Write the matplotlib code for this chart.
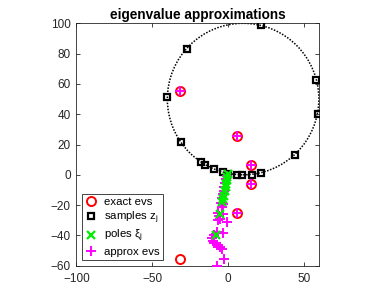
import matplotlib
matplotlib.use('Agg')
import matplotlib.pyplot as plt
from matplotlib.patches import Circle

# ── Data ───────────────────────────────────────────────────────────────────────

circle_center = (10, 50)
circle_radius = 50

exact_x = [-31.5, -31.5, 6.0, 6.0, 15.3, 15.3]
exact_y = [55.3, -55.3, 25.3, -25.5, 6.2, -6.2]

sample_x = [21.7, -27.2, 58.1, -40.3, 59.4, -31.1, 44.1, -18.0, -14.9,
            -9.2, -3.1, 0.2, 5.7, 9.2, 15.6, 21.7]
sample_y = [98.8, 83.2, 62.6, 51.4, 40.3, 21.4, 13.0, 8.2, 6.7,
            3.6, 1.6, 0.8, 0.1, -0.1, 0.1, 1.2]

pole_x = [-0.2, -0.4, -0.7, -1.0, -1.4, -1.9, -2.5, -3.2, -4.1, -5.5, -8.0]
pole_y = [0.5, -1.5, -3.5, -5.8, -8.3, -11.0, -13.8, -16.0, -17.9, -26.0, -39.8]

approx_x = [-31.5, 6.0, 6.0, 15.3, 15.3,
            -0.8, -1.3, -1.8, -2.3, -2.8, -3.3, -3.8, -4.5, -3.0, -3.6,
            -6.5, -6.0, -5.0, -6.5, -3.5, -0.9,
            -7.0, -3.1, -9.0, -10.5, -10.0, -9.0, -7.5, -5.5, -3.6,
            -2.6, -7.4]
approx_y = [55.3, 25.3, -25.5, 6.2, -6.2,
            -1.0, -3.0, -5.5, -8.0, -10.5, -13.0, -15.5, -18.5, -19.5, -21.0,
            -25.0, -27.5, -29.0, -30.0, -26.0, -31.0,
            -37.5, -38.7, -40.0, -42.0, -43.5, -45.3, -46.5, -47.5, -49.2,
            -55.8, -60.2]

x_ticks = [-100, -50, 0, 50]
y_ticks = [-60, -40, -20, 0, 20, 40, 60, 80, 100]

# ── Plot ───────────────────────────────────────────────────────────────────────

plt.rcParams['font.family'] = ['Liberation Sans', 'DejaVu Sans']
plt.rcParams['mathtext.fontset'] = 'custom'
plt.rcParams['mathtext.rm'] = 'Liberation Sans'

fig = plt.figure(figsize=(3.82, 3.05), dpi=100)
ax = fig.add_axes([76 / 382, 39.3 / 305, 243.3 / 382, 242.4 / 305])

ax.add_patch(Circle(circle_center, circle_radius, fill=False, color="black",
                    linestyle=(0, (1, 1)), linewidth=1.1, zorder=1))

ax.plot(exact_x, exact_y, linestyle="none", marker="o", markersize=6.5,
        markerfacecolor="none", markeredgecolor="red", markeredgewidth=1.4,
        label="exact evs", zorder=2)
ax.plot(sample_x, sample_y, linestyle="none", marker="s", markersize=5,
        markerfacecolor="none", markeredgecolor="black", markeredgewidth=1.6,
        label=r"samples z$_\mathregular{j}$", zorder=3)
ax.plot(pole_x, pole_y, linestyle="none", marker="x", markersize=5.5,
        color="#00ee00", markeredgewidth=1.6,
        label=r"poles ξ$_\mathregular{j}$", zorder=5)
ax.plot(approx_x, approx_y, linestyle="none", marker="+", markersize=6.5,
        color="magenta", markeredgewidth=1.4,
        label="approx evs", zorder=4)

ax.set_xlim(-100, 60)
ax.set_ylim(-60, 100)
ax.set_aspect("equal")
ax.set_xticks(x_ticks)
ax.set_yticks(y_ticks)
ax.tick_params(direction="in", top=True, right=True, length=3, width=0.6,
               labelsize=8.5, colors="#262626")
ax.tick_params(axis="x", pad=5.5)
ax.tick_params(axis="y", pad=4)
for s in ax.spines.values():
    s.set_linewidth(0.6)
    s.set_color("#262626")

ax.set_title("eigenvalue approximations", fontsize=9.8, fontweight="bold", pad=3)

leg = ax.legend(loc="lower left", fontsize=8.2, numpoints=1, handlelength=1.0,
                handletextpad=0.6, borderpad=0.3, labelspacing=0.2,
                fancybox=False, framealpha=1, edgecolor="#262626",
                borderaxespad=0.5)
leg.get_frame().set_linewidth(0.6)

fig.savefig("out.png", dpi=100)
